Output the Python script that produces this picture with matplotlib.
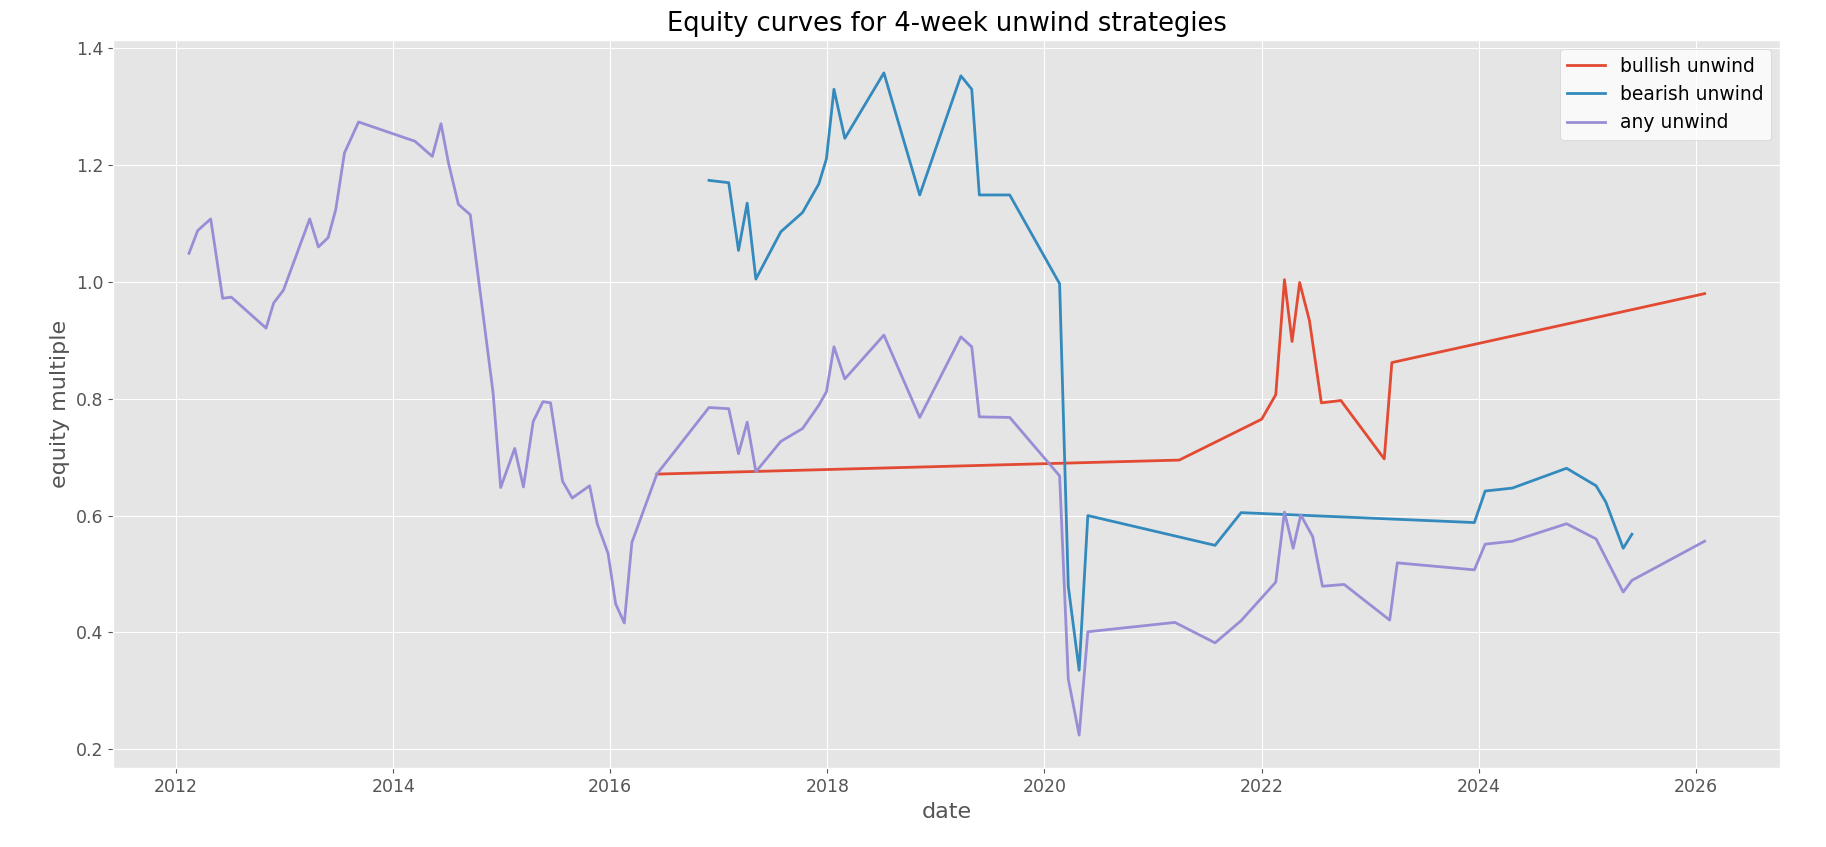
import numpy as np
import matplotlib
matplotlib.use('Agg')
import matplotlib.pyplot as plt
from datetime import datetime, timedelta

# decimal years
BULL_T = [2016.43, 2021.24, 2022.00, 2022.13, 2022.21, 2022.28, 2022.35, 2022.44,
          2022.55, 2022.73, 2023.13, 2023.20, 2026.08]
BULL_Y = [0.671, 0.695, 0.765, 0.807, 1.004, 0.898, 0.999, 0.934,
          0.793, 0.797, 0.697, 0.862, 0.980]

BEAR_T = [2016.91, 2017.09, 2017.18, 2017.26, 2017.34, 2017.57, 2017.77, 2017.92,
          2017.99, 2018.06, 2018.16, 2018.52, 2018.85, 2019.23, 2019.33, 2019.40,
          2019.68, 2020.14, 2020.22, 2020.32, 2020.40, 2021.57, 2021.81, 2023.96,
          2024.06, 2024.31, 2024.81, 2025.08, 2025.17, 2025.33, 2025.41]
BEAR_Y = [1.174, 1.170, 1.054, 1.135, 1.005, 1.086, 1.119, 1.168,
          1.211, 1.330, 1.246, 1.358, 1.149, 1.353, 1.330, 1.149,
          1.149, 0.997, 0.479, 0.335, 0.600, 0.549, 0.605, 0.588,
          0.642, 0.647, 0.681, 0.651, 0.623, 0.544, 0.568]

ANY_T = [2012.12, 2012.20, 2012.32, 2012.43, 2012.51, 2012.83, 2012.90, 2012.99,
         2013.23, 2013.31, 2013.40, 2013.47, 2013.55, 2013.68, 2014.20, 2014.36,
         2014.44, 2014.51, 2014.60, 2014.71, 2014.92, 2014.99, 2015.12, 2015.20,
         2015.29, 2015.38, 2015.45, 2015.56, 2015.65, 2015.81, 2015.88, 2015.98,
         2016.05, 2016.13, 2016.20, 2016.43, 2016.91, 2017.09, 2017.18, 2017.26,
         2017.34, 2017.57, 2017.77, 2017.92, 2017.99, 2018.06, 2018.16, 2018.52,
         2018.85, 2019.23, 2019.33, 2019.40, 2019.68, 2020.14, 2020.22, 2020.32,
         2020.40, 2021.20, 2021.57, 2021.81, 2022.13, 2022.21, 2022.29, 2022.36,
         2022.47, 2022.56, 2022.76, 2023.18, 2023.25, 2023.96, 2024.06, 2024.31,
         2024.81, 2025.08, 2025.33, 2025.41, 2026.08]
ANY_Y = [1.049, 1.088, 1.108, 0.972, 0.974, 0.921, 0.964, 0.986,
         1.108, 1.060, 1.076, 1.124, 1.221, 1.274, 1.241, 1.215,
         1.271, 1.203, 1.133, 1.115, 0.810, 0.648, 0.715, 0.649,
         0.761, 0.795, 0.793, 0.659, 0.630, 0.651, 0.586, 0.535,
         0.449, 0.416, 0.554, 0.671, 0.785, 0.783, 0.706, 0.760,
         0.675, 0.727, 0.749, 0.789, 0.812, 0.889, 0.834, 0.909,
         0.768, 0.906, 0.889, 0.769, 0.768, 0.668, 0.320, 0.224,
         0.401, 0.417, 0.382, 0.420, 0.486, 0.606, 0.544, 0.601,
         0.564, 0.479, 0.482, 0.421, 0.519, 0.507, 0.551, 0.556,
         0.586, 0.560, 0.469, 0.489, 0.556]


def to_dates(years):
    out = []
    for y in years:
        base = datetime(int(y), 1, 1)
        out.append(base + timedelta(days=(y - int(y)) * 365.25))
    return out


plt.style.use('ggplot')
fig, ax = plt.subplots(figsize=(18.26, 8.47), dpi=100)
fig.subplots_adjust(left=0.062, right=0.975, top=0.953, bottom=0.093)

ax.plot(to_dates(BULL_T), BULL_Y, lw=2, label='bullish unwind')
ax.plot(to_dates(BEAR_T), BEAR_Y, lw=2, label='bearish unwind')
ax.plot(to_dates(ANY_T), ANY_Y, lw=2, label='any unwind')

ax.set_title('Equity curves for 4-week unwind strategies', fontsize=18.5)
ax.set_xlabel('date', fontsize=16)
ax.set_ylabel('equity multiple', fontsize=16)
ax.tick_params(labelsize=12.5)
ax.legend(fontsize=13.5, facecolor='white', framealpha=0.8)

plt.savefig('out.png', dpi=100)
